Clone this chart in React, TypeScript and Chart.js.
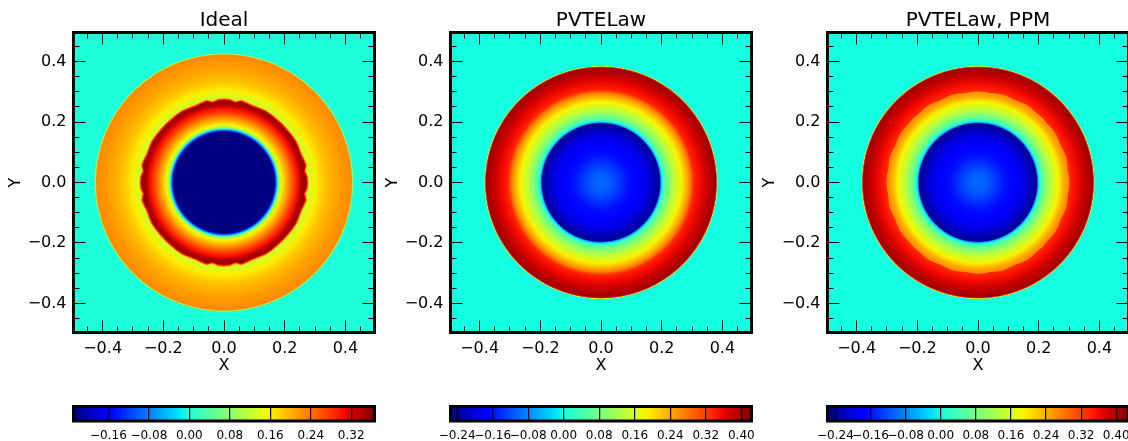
import React, { useEffect, useRef } from "react";
import { Chart, registerables } from "chart.js";

Chart.register(...registerables);

const FONT = "'DejaVu Sans'";

// Axis ticks shared by the three maps
const majorTicks = [-0.4, -0.2, 0, 0.2, 0.4];
const minorTicks = [-0.45, -0.4, -0.35, -0.3, -0.25, -0.2, -0.15, -0.1, -0.05, 0, 0.05, 0.1, 0.15, 0.2, 0.25, 0.3, 0.35, 0.4, 0.45];
const AXIS_LIMIT = 0.496;

// Colour ranges
const idealRange = [-0.229, 0.366];
const pvteRange = [-0.255, 0.423];
const ppmRange = [-0.258, 0.428];
const backgroundValue = 0;

// Colour bar ticks
const idealBarTicks = [-0.16, -0.08, 0, 0.08, 0.16, 0.24, 0.32];
const pvteBarTicks = [-0.24, -0.16, -0.08, 0, 0.08, 0.16, 0.24, 0.32, 0.4];

// Ideal: outer shell radial profile
const idealShellRadii = [0, 0.26, 0.28, 0.305, 0.33, 0.36, 0.39, 0.42, 0.4245, 0.4255, 0.427];
const idealShellValues = [0.354, 0.354, 0.128, 0.164, 0.188, 0.205, 0.217, 0.226, 0.1, 0.04, 0];
// Ideal: inner part, inside the bumpy dense ring
const idealCoreRadii = [0, 0.166, 0.168, 0.171, 0.174, 0.178, 0.184, 0.19, 0.204, 0.217, 0.23, 0.242, 0.254, 0.265, 0.3];
const idealCoreValues = [-0.229, -0.229, -0.19, -0.11, -0.05, 0.039, 0.116, 0.158, 0.199, 0.235, 0.271, 0.301, 0.336, 0.354, 0.354];
// Ideal: bumpy outline of the dense ring, by angle in the first octant
const idealRingAngles = [0, 4, 8, 12, 16, 20, 25, 30, 35, 40, 45];
const idealRingRadii = [0.272, 0.271, 0.265, 0.273, 0.27, 0.267, 0.268, 0.27, 0.269, 0.268, 0.268];
const idealEdgeOffsets = [0.012, 0.008, 0.005, 0.002];
const idealEdgeValues = [0.14, 0.199, 0.277, 0.324];

// PVTELaw: radial profile
const pvteRadii = [0, 0.03, 0.06, 0.09, 0.12, 0.15, 0.175, 0.192, 0.194, 0.196, 0.199, 0.205, 0.221, 0.238, 0.265, 0.284, 0.295, 0.306, 0.32, 0.345, 0.365, 0.378, 0.381, 0.383, 0.385];
const pvteValues = [-0.099, -0.109, -0.133, -0.16, -0.177, -0.194, -0.221, -0.245, -0.241, -0.119, -0.031, 0.03, 0.084, 0.131, 0.186, 0.24, 0.274, 0.335, 0.352, 0.375, 0.395, 0.405, 0.32, 0.152, 0];

// PVTELaw, PPM: outer shell profile
const ppmShellRadii = [0, 0.29, 0.304, 0.32, 0.345, 0.365, 0.378, 0.381, 0.383, 0.385];
const ppmShellValues = [0.339, 0.339, 0.339, 0.356, 0.38, 0.399, 0.41, 0.325, 0.154, 0];
// PVTELaw, PPM: inside the rippled front
const ppmCoreRadii = [0, 0.03, 0.06, 0.09, 0.12, 0.15, 0.175, 0.192, 0.194, 0.196, 0.199, 0.205, 0.221, 0.238, 0.265, 0.284, 0.31];
const ppmCoreValues = [-0.1, -0.11, -0.135, -0.162, -0.179, -0.196, -0.224, -0.248, -0.25, -0.121, -0.032, 0.03, 0.085, 0.133, 0.188, 0.243, 0.284];
const ppmFrontAngles = [0, 4, 8, 12, 16, 20, 24, 28, 32, 36, 40, 44, 45];
const ppmFrontRadii = [0.302, 0.301, 0.299, 0.301, 0.303, 0.301, 0.299, 0.301, 0.303, 0.302, 0.3, 0.301, 0.302];

// jet colour map
const jetR = [[0, 0], [0.35, 0], [0.66, 1], [0.89, 1], [1, 0.5]];
const jetG = [[0, 0], [0.125, 0], [0.375, 1], [0.64, 1], [0.91, 0], [1, 0]];
const jetB = [[0, 0.5], [0.11, 1], [0.34, 1], [0.65, 0], [1, 0]];

function channel(knots: number[][], t: number) {
  for (let i = 1; i < knots.length; i++) {
    if (t <= knots[i][0]) {
      const [a, av] = knots[i - 1];
      const [b, bv] = knots[i];
      return av + ((t - a) / (b - a)) * (bv - av);
    }
  }
  return knots[knots.length - 1][1];
}
function jet(value: number, range: number[]) {
  const t = Math.min(1, Math.max(0, (value - range[0]) / (range[1] - range[0])));
  const c = (k: number[][]) => Math.round(channel(k, t) * 255);
  return `rgb(${c(jetR)},${c(jetG)},${c(jetB)})`;
}

function radialFill(chart: any, radii: number[], values: number[], range: number[]) {
  const { x, y } = chart.scales;
  const cx = x.getPixelForValue(0);
  const cy = y.getPixelForValue(0);
  const R = x.getPixelForValue(radii[radii.length - 1]) - cx;
  const g = chart.ctx.createRadialGradient(cx, cy, 0, cx, cy, R);
  const last = radii[radii.length - 1];
  radii.forEach((r, i) => g.addColorStop(r / last, jet(values[i], range)));
  return g;
}

// expands a first-octant outline to the full closed circle
function closedOutline(angles: number[], radii: number[], offset: number) {
  const pts: { x: number; y: number }[] = [];
  const add = (deg: number, r: number) => {
    const a = (deg * Math.PI) / 180;
    pts.push({ x: (r + offset) * Math.cos(a), y: (r + offset) * Math.sin(a) });
  };
  for (let q = 0; q < 4; q++) {
    angles.forEach((a, i) => add(q * 90 + a, radii[i]));
    for (let i = angles.length - 2; i > 0; i--) add(q * 90 + 90 - angles[i], radii[i]);
  }
  return pts;
}

function disc(radii: number[], values: number[], range: number[]) {
  const last = radii[radii.length - 1];
  return {
    type: "scatter",
    data: [{ x: 0, y: 0 }],
    pointBorderWidth: 0,
    pointRadius: (c: any) => {
      const s = c.chart.scales.x;
      return s ? s.getPixelForValue(last) - s.getPixelForValue(0) : 0;
    },
    pointBackgroundColor: (c: any) => (c.chart.chartArea ? radialFill(c.chart, radii, values, range) : "transparent"),
  };
}

function outlineLayer(angles: number[], radii: number[], offset: number, fill: any) {
  return { type: "scatter", data: closedOutline(angles, radii, offset), pointRadius: 0, outlineFill: fill };
}

const idealLayers = [
  disc(idealShellRadii, idealShellValues, idealRange),
  ...idealEdgeOffsets.map((o, i) =>
    outlineLayer(idealRingAngles, idealRingRadii, o, () => jet(idealEdgeValues[i], idealRange))
  ),
  outlineLayer(idealRingAngles, idealRingRadii, 0, (ch: any) => radialFill(ch, idealCoreRadii, idealCoreValues, idealRange)),
];
const pvteLayers = [disc(pvteRadii, pvteValues, pvteRange)];
const ppmLayers = [
  disc(ppmShellRadii, ppmShellValues, ppmRange),
  outlineLayer(ppmFrontAngles, ppmFrontRadii, 0, (ch: any) => radialFill(ch, ppmCoreRadii, ppmCoreValues, ppmRange)),
];

const mapPlugin = {
  id: "mapPlugin",
  beforeDatasetsDraw(chart: any) {
    const a = chart.chartArea;
    chart.ctx.save();
    chart.ctx.fillStyle = jet(backgroundValue, chart.options.plugins.mapPlugin.range);
    chart.ctx.fillRect(a.left, a.top, a.width, a.height);
    chart.ctx.restore();
    chart.ctx.filter = "blur(0.7px)";
  },
  afterDatasetDraw(chart: any, args: any) {
    const ds = chart.data.datasets[args.index];
    if (!ds.outlineFill) return;
    const ctx = chart.ctx;
    ctx.save();
    ctx.beginPath();
    args.meta.data.forEach((p: any, i: number) => (i ? ctx.lineTo(p.x, p.y) : ctx.moveTo(p.x, p.y)));
    ctx.closePath();
    ctx.fillStyle = ds.outlineFill(chart);
    ctx.fill();
    ctx.restore();
  },
  afterDatasetsDraw(chart: any) {
    chart.ctx.filter = "none";
  },
};

const framePlugin = {
  id: "framePlugin",
  afterDraw(chart: any) {
    const a = chart.chartArea;
    const ctx = chart.ctx;
    ctx.save();
    ctx.strokeStyle = "#000";
    ctx.lineWidth = chart.options.plugins.framePlugin.width;
    ctx.strokeRect(a.left, a.top, a.width, a.height);
    ctx.restore();
  },
};

const signed = (v: number, digits: number) => (v < -1e-9 ? "\u2212" : "") + Math.abs(v).toFixed(digits);

function tickAxis(position: string, values: number[], length: number, labelled: boolean, size: number, weight: number) {
  return {
    type: "linear",
    position,
    min: -AXIS_LIMIT,
    max: AXIS_LIMIT,
    weight,
    afterBuildTicks: (s: any) => {
      s.ticks = values.map((value) => ({ value }));
    },
    afterFit: (s: any) => {
      if (position === "left" || position === "right") s.width = size;
      else s.height = size;
      s.paddingLeft = s.paddingRight = s.paddingTop = s.paddingBottom = 0;
    },
    border: { display: false },
    grid: { drawOnChartArea: false, drawTicks: true, tickLength: -length, tickColor: "#000", tickWidth: 1, lineWidth: 1, z: 2 },
    ticks: {
      display: labelled,
      autoSkip: false,
      maxRotation: 0,
      minRotation: 0,
      color: "#000",
      padding: length + 7,
      font: { family: FONT, size: 16 },
      callback: (v: any) => signed(Number(v), 1),
    },
  };
}

function mapConfig(title: string, layers: any[], range: number[]) {
  const bottom: any = tickAxis("bottom", majorTicks, 12, true, 47.5, 1);
  bottom.title = { display: true, text: "X", color: "#000", font: { family: FONT, size: 16 }, padding: { top: 0, bottom: 4.4 } };
  const left: any = tickAxis("left", majorTicks, 12, true, 73.5, 1);
  left.title = { display: true, text: "Y", color: "#000", font: { family: FONT, size: 16 }, padding: { top: 6, bottom: 0 } };
  return {
    type: "scatter",
    data: { datasets: layers.map((l, i) => ({ ...l, order: layers.length - i, xAxisID: "x", yAxisID: "y" })) },
    plugins: [mapPlugin, framePlugin],
    options: {
      animation: false,
      responsive: false,
      devicePixelRatio: 1,
      events: [],
      layout: { padding: { top: 0, left: 0, right: 5.5, bottom: 0 } },
      scales: {
        x: bottom,
        y: left,
        xMinor: tickAxis("bottom", minorTicks, 6, false, 0, 0),
        yMinor: tickAxis("left", minorTicks, 6, false, 0, 0),
        xTop: tickAxis("top", majorTicks, 12, false, 0, 1),
        xTopMinor: tickAxis("top", minorTicks, 6, false, 0, 0),
        yRight: tickAxis("right", majorTicks, 12, false, 0, 1),
        yRightMinor: tickAxis("right", minorTicks, 6, false, 0, 0),
      },
      plugins: {
        legend: { display: false },
        tooltip: { enabled: false },
        mapPlugin: { range },
        framePlugin: { width: 3 },
        title: {
          display: true,
          text: title,
          color: "#000",
          fullSize: false,
          font: { family: FONT, size: 20, weight: "normal", lineHeight: 1.2 },
          padding: { top: 8.5, bottom: 0 },
        },
      },
    },
  };
}

function barConfig(ticks: number[], range: number[]) {
  const edges = [range[0], ...ticks, range[1]];
  const fill = (c: any) => {
    const s = c.chart.scales.x;
    if (!s || !c.chart.chartArea) return "transparent";
    const g = c.chart.ctx.createLinearGradient(s.getPixelForValue(range[0]), 0, s.getPixelForValue(range[1]), 0);
    for (let i = 0; i <= 40; i++) {
      g.addColorStop(i / 40, jet(range[0] + (i / 40) * (range[1] - range[0]), range));
    }
    return g;
  };
  return {
    type: "bar",
    data: {
      labels: [""],
      datasets: edges.slice(0, -1).map((e, i) => ({
        data: [[e, edges[i + 1]]],
        backgroundColor: fill,
        borderWidth: 0,
        barPercentage: 1,
        categoryPercentage: 1,
        grouped: false,
      })),
    },
    plugins: [framePlugin],
    options: {
      indexAxis: "y",
      animation: false,
      responsive: false,
      devicePixelRatio: 1,
      events: [],
      layout: { padding: { top: 11.5, left: 73.5, right: 5.5, bottom: 0 } },
      scales: {
        y: { type: "category", display: false },
        x: {
          type: "linear",
          position: "bottom",
          min: range[0],
          max: range[1],
          afterBuildTicks: (s: any) => {
            s.ticks = ticks.map((value) => ({ value }));
          },
          afterFit: (s: any) => {
            s.height = 20;
            s.paddingLeft = s.paddingRight = 0;
          },
          border: { display: false },
          grid: { color: "#000", lineWidth: 1.2, drawTicks: false, z: 1 },
          ticks: {
            autoSkip: false,
            maxRotation: 0,
            minRotation: 0,
            color: "#000",
            padding: 8,
            font: { family: FONT, size: 12 },
            callback: (v: any) => signed(Number(v), 2),
          },
        },
      },
      plugins: { legend: { display: false }, tooltip: { enabled: false }, framePlugin: { width: 3 } },
    },
  };
}

const panelLefts = [0, 377, 754];
const MAP_SIZE = 380;
const BAR_TOP = 395;
const BAR_HEIGHT = 46;

export default function App() {
  const mapRefs = [useRef<HTMLCanvasElement>(null), useRef<HTMLCanvasElement>(null), useRef<HTMLCanvasElement>(null)];
  const barRefs = [useRef<HTMLCanvasElement>(null), useRef<HTMLCanvasElement>(null), useRef<HTMLCanvasElement>(null)];

  useEffect(() => {
    const configs = [
      mapConfig("Ideal", idealLayers, idealRange),
      mapConfig("PVTELaw", pvteLayers, pvteRange),
      mapConfig("PVTELaw, PPM", ppmLayers, ppmRange),
    ];
    const bars = [barConfig(idealBarTicks, idealRange), barConfig(pvteBarTicks, pvteRange), barConfig(pvteBarTicks, ppmRange)];
    const charts = [
      ...configs.map((c, i) => new Chart(mapRefs[i].current as any, c as any)),
      ...bars.map((c, i) => new Chart(barRefs[i].current as any, c as any)),
    ];
    return () => charts.forEach((c) => c.destroy());
  }, []);

  return (
    <div style={{ position: "absolute", left: 0, top: 0, width: 1128, height: 441, overflow: "hidden", background: "#fff" }}>
      {panelLefts.map((left, i) => (
        <React.Fragment key={i}>
          <canvas ref={mapRefs[i]} width={MAP_SIZE} height={MAP_SIZE} style={{ position: "absolute", left, top: 0 }} />
          <canvas ref={barRefs[i]} width={MAP_SIZE} height={BAR_HEIGHT} style={{ position: "absolute", left, top: BAR_TOP }} />
        </React.Fragment>
      ))}
    </div>
  );
}
